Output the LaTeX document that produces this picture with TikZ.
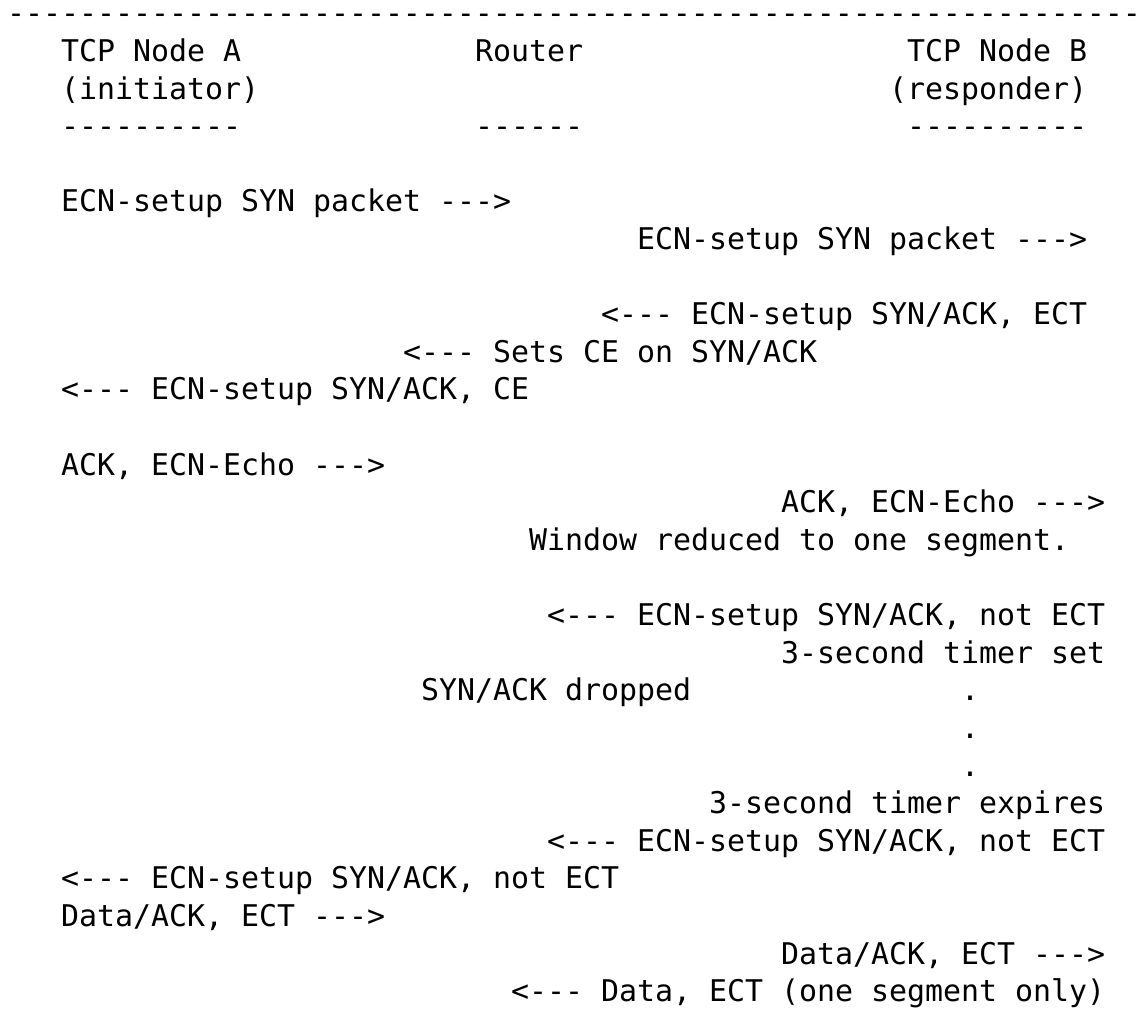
\documentclass[tikz,border=0pt]{standalone}
\usepackage{fontspec}
\setmonofont{DejaVu Sans Mono}
\frenchspacing

\begin{document}
\begin{tikzpicture}[x=18pt,y=-37.6pt]
\tikzstyle{txt}=[anchor=base west,inner sep=0pt,outer sep=0pt,font=\ttfamily\fontsize{29.9}{37.6}\selectfont]
\useasboundingbox (-0.389,-0.638) rectangle (62.722,26.782);
%header
\node[txt] (rule) at (0,0) {---------------------------------------------------------------};
\node[txt] (A) at (3,1) {TCP Node A};
\node[txt] (R) at (26,1) {Router};
\node[txt] (B) at (50,1) {TCP Node B};
\node[txt] (Arole) at (3,2) {(initiator)};
\node[txt] (Brole) at (49,2) {(responder)};
\node[txt] (Aline) at (3,3) {----------};
\node[txt] (Rline) at (26,3) {------};
\node[txt] (Bline) at (50,3) {----------};
%syn
\node[txt] (syn1) at (3,5) {ECN-setup SYN packet --->};
\node[txt] (syn2) at (35,6) {ECN-setup SYN packet --->};
\node[txt] (sa1) at (33,8) {<--- ECN-setup SYN/ACK, ECT};
\node[txt] (ce) at (22,9) {<--- Sets CE on SYN/ACK};
\node[txt] (sa2) at (3,10) {<--- ECN-setup SYN/ACK, CE};
%ack
\node[txt] (ack1) at (3,12) {ACK, ECN-Echo --->};
\node[txt] (ack2) at (43,13) {ACK, ECN-Echo --->};
\node[txt] (win) at (29,14) {Window reduced to one segment.};
%retransmit
\node[txt] (sa3) at (30,16) {<--- ECN-setup SYN/ACK, not ECT};
\node[txt] (tset) at (43,17) {3-second timer set};
\node[txt] (drop) at (23,18) {SYN/ACK dropped};
\node[txt] (d1) at (53,18) {.};
\node[txt] (d2) at (53,19) {.};
\node[txt] (d3) at (53,20) {.};
\node[txt] (texp) at (39,21) {3-second timer expires};
\node[txt] (sa4) at (30,22) {<--- ECN-setup SYN/ACK, not ECT};
\node[txt] (sa5) at (3,23) {<--- ECN-setup SYN/ACK, not ECT};
%data
\node[txt] (dat1) at (3,24) {Data/ACK, ECT --->};
\node[txt] (dat2) at (43,25) {Data/ACK, ECT --->};
\node[txt] (dat3) at (28,26) {<--- Data, ECT (one segment only)};
\end{tikzpicture}
\end{document}
